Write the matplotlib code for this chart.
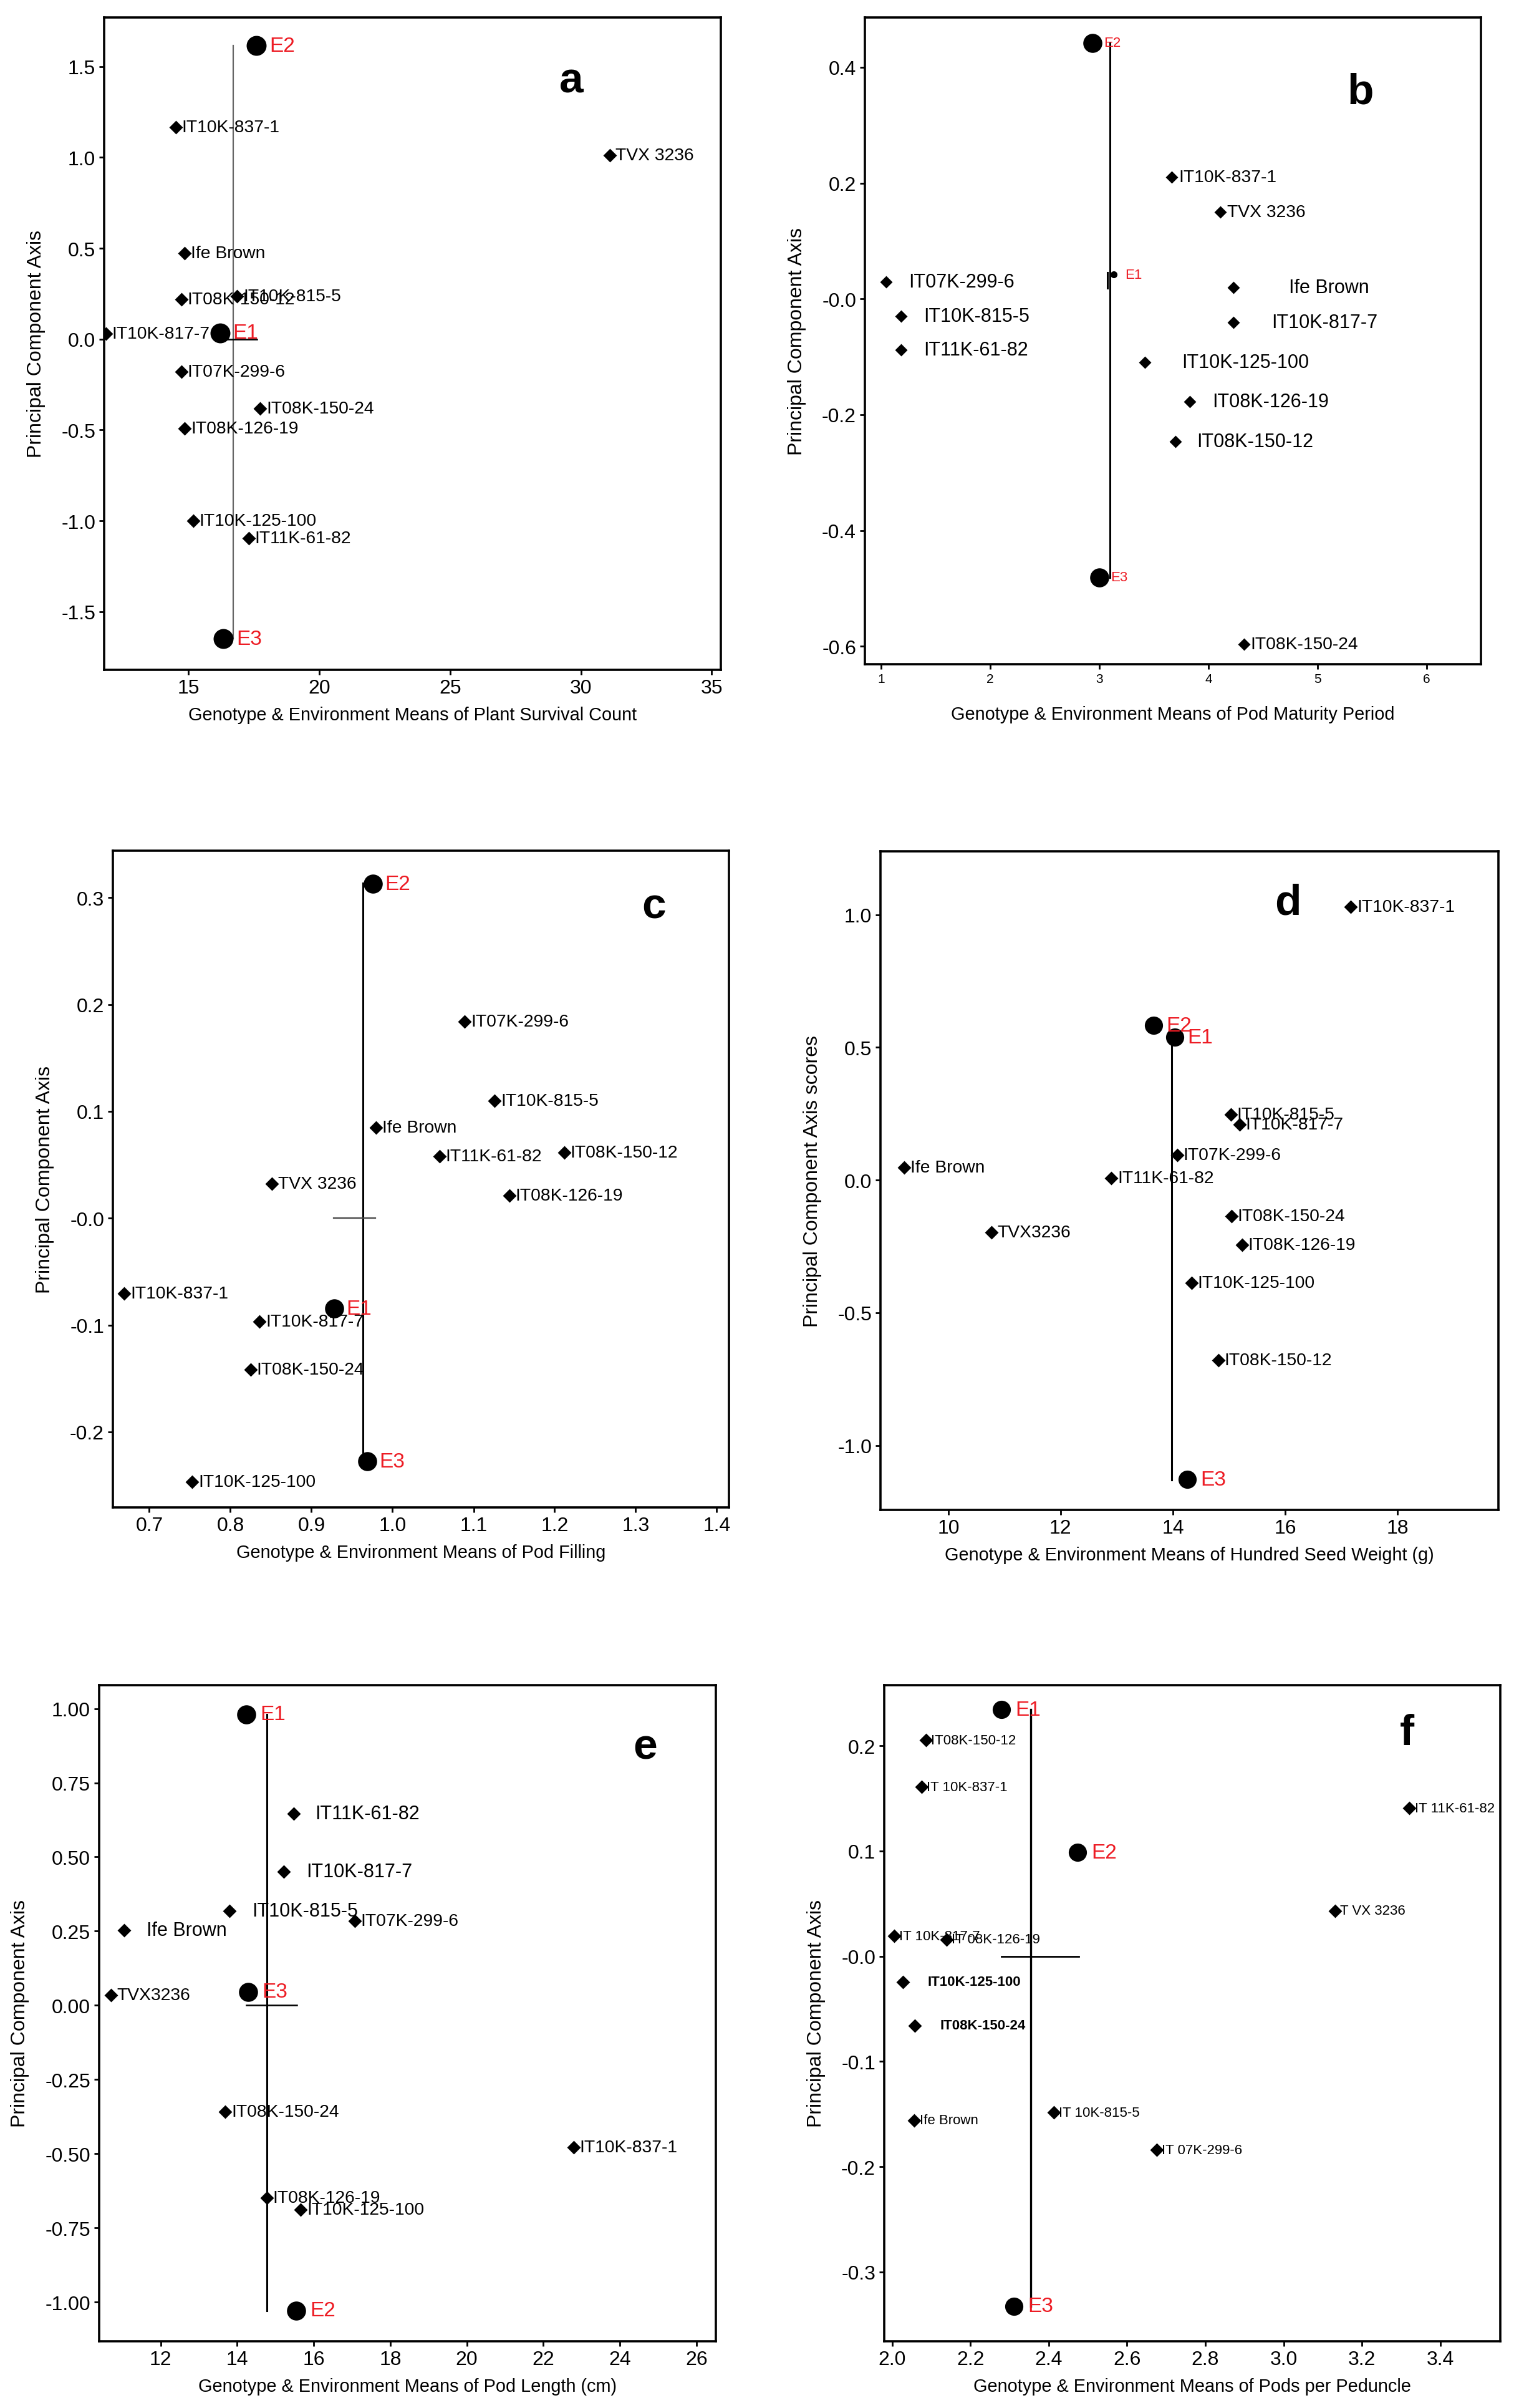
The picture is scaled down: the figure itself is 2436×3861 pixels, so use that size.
import matplotlib

matplotlib.use("Agg")
import matplotlib.pyplot as plt

plt.rcParams["axes.unicode_minus"] = False

FONT = ["Liberation Sans", "DejaVu Sans"]
RED = "#ed1c24"

ENVS = ["E1", "E2", "E3"]

# ---- panel a: plant survival count
A_NAMES = ["IT10K-837-1", "TVX 3236", "Ife Brown", "IT08K-150-12", "IT10K-815-5",
           "IT10K-817-7", "IT07K-299-6", "IT08K-150-24", "IT08K-126-19",
           "IT10K-125-100", "IT11K-61-82"]
A_X = [14.51, 31.1, 14.85, 14.73, 16.86, 11.84, 14.73, 17.74, 14.85, 15.18, 17.3]
A_Y = [1.165, 1.013, 0.474, 0.219, 0.235, 0.029, -0.178, -0.381, -0.491, -1.0, -1.097]
A_EX = [16.2, 17.59, 16.33]
A_EY = [0.034, 1.615, -1.65]
A_XTICKS = [15, 20, 25, 30, 35]
A_YTICKS = [1.5, 1.0, 0.5, 0.0, -0.5, -1.0, -1.5]
A_YTICKLABELS = ["1.5", "1.0", "0.5", "0.0", "-0.5", "-1.0", "-1.5"]

# ---- panel b: pod maturity period
B_NAMES = ["IT10K-837-1", "TVX 3236", "Ife Brown", "IT08K-150-12", "IT10K-815-5",
           "IT10K-817-7", "IT07K-299-6", "IT08K-150-24", "IT08K-126-19",
           "IT10K-125-100", "IT11K-61-82"]
B_X = [3.664, 4.107, 4.23, 3.70, 1.182, 4.23, 1.044, 4.325, 3.83, 3.42, 1.182]
B_Y = [0.2106, 0.1496, 0.0195, -0.246, -0.030, -0.041, 0.029, -0.596, -0.177, -0.1097, -0.0886]
B_EX = [3.13, 2.937, 3.0]
B_EY = [0.042, 0.442, -0.481]
B_XTICKS = [1, 2, 3, 4, 5, 6]
B_YTICKS = [0.4, 0.2, 0.0, -0.2, -0.4, -0.6]
B_YTICKLABELS = ["0.4", "0.2", "-0.0", "-0.2", "-0.4", "-0.6"]

# ---- panel c: pod filling
C_NAMES = ["IT10K-837-1", "TVX 3236", "Ife Brown", "IT08K-150-12", "IT10K-815-5",
           "IT10K-817-7", "IT07K-299-6", "IT08K-150-24", "IT08K-126-19",
           "IT10K-125-100", "IT11K-61-82"]
C_X = [0.669, 0.851, 0.980, 1.212, 1.126, 0.836, 1.089, 0.825, 1.144, 0.753, 1.058]
C_Y = [-0.0702, 0.032, 0.0848, 0.0613, 0.1098, -0.0966, 0.1843, -0.1418, 0.021, -0.2468, 0.058]
C_EX = [0.928, 0.976, 0.969]
C_EY = [-0.0845, 0.313, -0.2277]
C_XTICKS = [0.7, 0.8, 0.9, 1.0, 1.1, 1.2, 1.3, 1.4]
C_YTICKS = [0.3, 0.2, 0.1, 0.0, -0.1, -0.2]
C_YTICKLABELS = ["0.3", "0.2", "0.1", "-0.0", "-0.1", "-0.2"]

# ---- panel d: hundred seed weight
D_NAMES = ["IT10K-837-1", "TVX3236", "Ife Brown", "IT08K-150-12", "IT10K-815-5",
           "IT10K-817-7", "IT07K-299-6", "IT08K-150-24", "IT08K-126-19",
           "IT10K-125-100", "IT11K-61-82"]
D_X = [17.17, 10.767, 9.216, 14.81, 15.03, 15.19, 14.078, 15.04, 15.23, 14.33, 12.905]
D_Y = [1.029, -0.196, 0.0468, -0.680, 0.2466, 0.21, 0.0936, -0.137, -0.245, -0.387, 0.0072]
D_EX = [14.03, 13.655, 14.26]
D_EY = [0.538, 0.583, -1.128]
D_XTICKS = [10, 12, 14, 16, 18]
D_YTICKS = [1.0, 0.5, 0.0, -0.5, -1.0]
D_YTICKLABELS = ["1.0", "0.5", "0.0", "-0.5", "-1.0"]

# ---- panel e: pod length
E_NAMES = ["IT10K-837-1", "TVX3236", "Ife Brown", "IT10K-815-5", "IT10K-817-7",
           "IT07K-299-6", "IT08K-150-24", "IT08K-126-19", "IT10K-125-100", "IT11K-61-82"]
E_X = [22.79, 10.70, 11.04, 13.79, 15.21, 17.07, 13.69, 14.77, 15.66, 15.47]
E_Y = [-0.479, 0.0355, 0.253, 0.319, 0.451, 0.285, -0.358, -0.648, -0.688, 0.645]
E_EX = [14.237, 15.535, 14.287]
E_EY = [0.981, -1.029, 0.045]
E_XTICKS = [12, 14, 16, 18, 20, 22, 24, 26]
E_YTICKS = [1.0, 0.75, 0.5, 0.25, 0.0, -0.25, -0.5, -0.75, -1.0]
E_YTICKLABELS = ["1.00", "0.75", "0.50", "0.25", "0.00", "-0.25", "-0.50", "-0.75", "-1.00"]

# ---- panel f: pods per peduncle
F_NAMES = ["IT08K-150-12", "IT 10K-837-1", "IT 11K-61-82", "T VX 3236", "IT 10K-817-7",
           "IT 08K-126-19", "IT10K-125-100", "IT08K-150-24", "Ife Brown",
           "IT 10K-815-5", "IT 07K-299-6"]
F_X = [2.086, 2.075, 3.321, 3.131, 2.005, 2.139, 2.027, 2.058, 2.057, 2.413, 2.675]
F_Y = [0.2055, 0.1609, 0.1409, 0.0432, 0.0191, 0.0159, -0.0245, -0.0659, -0.156, -0.1486, -0.184]
F_EX = [2.279, 2.474, 2.311]
F_EY = [0.2345, 0.0986, -0.3327]
F_XTICKS = [2.0, 2.2, 2.4, 2.6, 2.8, 3.0, 3.2, 3.4]
F_XTICKLABELS = ["2.0", "2.2", "2.4", "2.6", "2.8", "3.0", "3.2", "3.4"]
F_YTICKS = [0.2, 0.1, 0.0, -0.1, -0.2, -0.3]
F_YTICKLABELS = ["0.2", "0.1", "-0.0", "-0.1", "-0.2", "-0.3"]

XLABEL = "Genotype & Environment Means of "

W, H = 2436, 3862
fig = plt.figure(figsize=(W / 200, H / 200), dpi=200)


def rect(left, right, top, bottom):
    return [left / W, 1 - bottom / H, (right - left) / W, (bottom - top) / H]


def setup(ax, xlim, ylim, xticks, xtl, yticks, ytl, xlabel, ylabel, letter, letter_pos,
          xtick_size=11.5, xlabelpad=5):
    ax.set_xlim(xlim)
    ax.set_ylim(ylim)
    ax.set_xticks(xticks)
    ax.set_xticklabels(xtl, family=FONT, fontsize=xtick_size)
    ax.set_yticks(yticks)
    ax.set_yticklabels(ytl, family=FONT, fontsize=11.5)
    ax.tick_params(direction="out", length=3, width=1, pad=2)
    for s in ax.spines.values():
        s.set_linewidth(1.3)
    ax.set_xlabel(xlabel, family=FONT, fontsize=10.4, labelpad=xlabelpad)
    ax.set_ylabel(ylabel, family=FONT, fontsize=11.5, labelpad=9)
    ax.text(letter_pos[0], letter_pos[1], letter, transform=ax.transAxes, fontsize=25,
            fontweight="bold", family=FONT, ha="center", va="center")


def genotypes(ax, names, xs, ys, ms=4.5, size=10.2, offsets=None, spaced=None,
              spaced_size=11, bold=()):
    offsets = offsets or {}
    spaced = spaced or {}
    for name, x, y in zip(names, xs, ys):
        ax.plot(x, y, marker="D", color="black", ms=ms, ls="none", zorder=3)
        if name in spaced:
            ax.annotate(name, (x, y), xytext=(spaced[name], 0), textcoords="offset points",
                        va="center", ha="left", family=FONT, fontsize=spaced_size,
                        fontweight="bold" if name in bold else "normal")
        else:
            ax.annotate(name, (x, y), xytext=(offsets.get(name, 3.5), 0),
                        textcoords="offset points", va="center", ha="left",
                        family=FONT, fontsize=size)


def environments(ax, xs, ys, ms=10.5, size=12, dx=7.5, sizes=None):
    for i, (name, x, y) in enumerate(zip(ENVS, xs, ys)):
        m = sizes[i] if sizes else ms
        ax.plot(x, y, marker="o", color="black", ms=m, ls="none", zorder=3)
        ax.annotate(name, (x, y), xytext=(dx, 0), textcoords="offset points",
                    va="center", ha="left", color=RED, family=FONT, fontsize=size)


# ---------------- a
ax = fig.add_axes(rect(167, 1156, 29, 1075))
ax.plot([16.7, 16.7], [-1.65, 1.615], color="#666666", lw=0.8, zorder=1)
ax.plot([16.33, 17.6], [0.0, 0.0], color="black", lw=0.9, zorder=1)
genotypes(ax, A_NAMES, A_X, A_Y)
environments(ax, A_EX, A_EY)
setup(ax, (11.77, 35.35), (-1.82, 1.77), A_XTICKS, [str(t) for t in A_XTICKS],
      A_YTICKS, A_YTICKLABELS, XLABEL + "Plant Survival Count",
      "Principal Component Axis", "a", (0.758, 0.903))

# ---------------- b
ax = fig.add_axes(rect(1387, 2375, 29, 1066))
ax.plot([3.0975, 3.0975], [-0.481, 0.442], color="black", lw=1.1, zorder=1)
ax.plot([3.075, 3.075], [0.019, 0.045], color="black", lw=1.1, zorder=1)
genotypes(ax, B_NAMES, B_X, B_Y, ms=4,
          offsets={"IT10K-837-1": 4, "TVX 3236": 4, "IT08K-150-24": 4},
          spaced={"IT07K-299-6": 13, "IT10K-815-5": 13, "IT11K-61-82": 13,
                  "Ife Brown": 32, "IT10K-817-7": 22, "IT10K-125-100": 21,
                  "IT08K-126-19": 13, "IT08K-150-12": 12})
environments(ax, B_EX, B_EY, size=8, dx=6.5, sizes=[3, 10, 10])
setup(ax, (0.85, 6.5), (-0.631, 0.486), B_XTICKS, [str(t) for t in B_XTICKS],
      B_YTICKS, B_YTICKLABELS, XLABEL + "Pod Maturity Period",
      "Principal Component Axis", "b", (0.804, 0.885), xtick_size=7.5, xlabelpad=12)

# ---------------- c
ax = fig.add_axes(rect(181, 1169, 1365, 2418))
ax.plot([0.9636, 0.9636], [-0.228, 0.3135], color="black", lw=1.1, zorder=1)
ax.plot([0.927, 0.979], [0.0, 0.0], color="#444444", lw=0.8, zorder=1)
genotypes(ax, C_NAMES, C_X, C_Y)
environments(ax, C_EX, C_EY, ms=10, dx=7)
setup(ax, (0.655, 1.415), (-0.2707, 0.344), C_XTICKS, ["%.1f" % t for t in C_XTICKS],
      C_YTICKS, C_YTICKLABELS, XLABEL + "Pod Filling",
      "Principal Component Axis", "c", (0.878, 0.915))

# ---------------- d
ax = fig.add_axes(rect(1412, 2403, 1366, 2422))
ax.plot([13.98, 13.98], [-1.13, 0.538], color="black", lw=1.1, zorder=1)
genotypes(ax, D_NAMES, D_X, D_Y)
environments(ax, D_EX, D_EY, ms=9.5, dx=7.5)
setup(ax, (8.79, 19.8), (-1.243, 1.239), D_XTICKS, [str(t) for t in D_XTICKS],
      D_YTICKS, D_YTICKLABELS, XLABEL + "Hundred Seed Weight (g)",
      "Principal Component Axis scores", "d", (0.659, 0.922))

# ---------------- e
ax = fig.add_axes(rect(159, 1148, 2703, 3755))
ax.plot([14.77, 14.77], [-1.03, 0.98], color="black", lw=1.1, zorder=1)
ax.plot([14.24, 15.56], [0.0, 0.0], color="black", lw=0.9, zorder=1)
genotypes(ax, E_NAMES, E_X, E_Y,
          spaced={"IT11K-61-82": 12.5, "IT10K-817-7": 13, "IT10K-815-5": 13,
                  "Ife Brown": 13})
environments(ax, E_EX, E_EY, ms=10, dx=8)
setup(ax, (10.39, 26.51), (-1.132, 1.079), E_XTICKS, [str(t) for t in E_XTICKS],
      E_YTICKS, E_YTICKLABELS, XLABEL + "Pod Length (cm)",
      "Principal Component Axis", "e", (0.885, 0.905))

# ---------------- f
ax = fig.add_axes(rect(1418, 2406, 2703, 3755))
ax.plot([2.354, 2.354], [-0.333, 0.2345], color="black", lw=1.2, zorder=1)
ax.plot([2.279, 2.476], [0.0, 0.0], color="black", lw=1.0, zorder=1)
genotypes(ax, F_NAMES, F_X, F_Y, ms=4.6, size=8,
          offsets={n: 3 for n in F_NAMES},
          spaced={"IT10K-125-100": 14.5, "IT08K-150-24": 14.5},
          spaced_size=8, bold=("IT10K-125-100", "IT08K-150-24"))
environments(ax, F_EX, F_EY, ms=9.5, size=12, dx=8)
setup(ax, (1.98, 3.553), (-0.366, 0.2577), F_XTICKS, F_XTICKLABELS,
      F_YTICKS, F_YTICKLABELS, XLABEL + "Pods per Peduncle",
      "Principal Component Axis", "f", (0.849, 0.927))

fig.savefig("out.png", dpi=200, facecolor="white")
